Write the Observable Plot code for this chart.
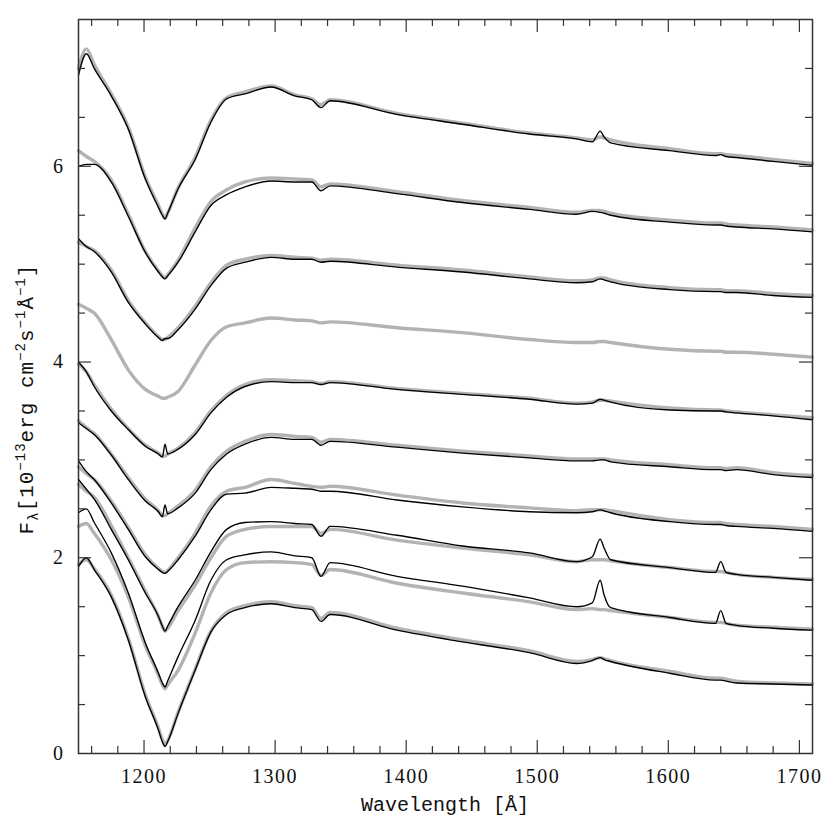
<!DOCTYPE html>
<html><head><meta charset="utf-8">
<script src="https://cdn.jsdelivr.net/npm/d3@7"></script>
<script src="https://cdn.jsdelivr.net/npm/@observablehq/plot@0.6"></script>
<style>body{margin:0;background:#fff}</style>
</head><body><div id="chart"></div>
<script>
// Wavelength sample points (Å)
const wl = [1150,1156,1162,1175,1188,1201,1211,1214,1216,1218,1226,1239,1251,1263,1277,1297,1315,1328,1335,1342,1393,1443,1494,1530,1542,1548,1551,1556,1601,1636,1640,1644,1652,1680,1710];

// Spectra, top to bottom (black = thin, gray = thick)
const black1 = [6.93,7.15,7.00,6.72,6.38,5.87,5.58,5.50,5.46,5.52,5.77,6.07,6.45,6.69,6.74,6.81,6.72,6.68,6.60,6.67,6.53,6.43,6.33,6.28,6.25,6.36,6.30,6.24,6.16,6.11,6.12,6.10,6.09,6.05,6.01];
const gray1  = [7.00,7.20,7.04,6.74,6.40,5.89,5.60,5.51,5.47,5.52,5.78,6.09,6.47,6.70,6.76,6.82,6.73,6.69,6.63,6.68,6.54,6.44,6.34,6.29,6.27,6.30,6.29,6.27,6.18,6.13,6.13,6.12,6.11,6.07,6.03];
const black2 = [6.00,6.02,6.02,5.84,5.49,5.12,4.92,4.87,4.85,4.88,5.02,5.33,5.60,5.71,5.79,5.85,5.84,5.84,5.75,5.80,5.72,5.63,5.56,5.51,5.54,5.53,5.52,5.50,5.43,5.40,5.40,5.39,5.38,5.36,5.33];
const gray2  = [6.16,6.10,6.05,5.86,5.51,5.13,4.93,4.88,4.86,4.89,5.04,5.37,5.64,5.76,5.84,5.88,5.87,5.86,5.79,5.82,5.74,5.65,5.58,5.53,5.55,5.55,5.54,5.52,5.45,5.42,5.42,5.41,5.40,5.38,5.35];
const black3 = [5.26,5.18,5.13,4.92,4.61,4.39,4.25,4.22,4.24,4.24,4.33,4.54,4.78,4.96,5.02,5.07,5.05,5.05,5.02,5.03,4.97,4.92,4.85,4.81,4.82,4.85,4.84,4.82,4.74,4.72,4.72,4.71,4.71,4.68,4.66];
const gray3  = [5.22,5.18,5.14,4.94,4.63,4.40,4.26,4.23,4.23,4.25,4.35,4.57,4.81,4.99,5.05,5.09,5.07,5.06,5.04,5.05,4.99,4.94,4.87,4.83,4.84,4.86,4.86,4.84,4.76,4.74,4.74,4.73,4.73,4.70,4.68];
const gray4  = [4.59,4.55,4.50,4.23,3.92,3.72,3.65,3.63,3.63,3.64,3.70,3.97,4.22,4.36,4.40,4.45,4.43,4.42,4.40,4.41,4.35,4.30,4.23,4.20,4.20,4.21,4.21,4.20,4.13,4.11,4.11,4.10,4.10,4.08,4.05];
const black5 = [4.00,3.90,3.75,3.50,3.31,3.14,3.06,3.03,3.16,3.06,3.11,3.26,3.48,3.64,3.75,3.80,3.79,3.79,3.77,3.79,3.72,3.67,3.62,3.57,3.58,3.62,3.61,3.59,3.51,3.50,3.50,3.49,3.48,3.45,3.41];
const gray5  = [3.98,3.90,3.77,3.52,3.32,3.15,3.07,3.04,3.04,3.06,3.12,3.28,3.50,3.66,3.77,3.82,3.81,3.80,3.78,3.80,3.73,3.68,3.63,3.58,3.59,3.61,3.61,3.60,3.53,3.51,3.51,3.50,3.49,3.46,3.43];
const black6 = [3.38,3.32,3.26,3.05,2.80,2.58,2.47,2.42,2.54,2.45,2.51,2.66,2.90,3.06,3.16,3.23,3.21,3.21,3.15,3.19,3.13,3.07,3.02,2.99,2.99,3.00,3.00,2.98,2.93,2.90,2.90,2.89,2.90,2.85,2.82];
const gray6  = [3.40,3.33,3.27,3.06,2.82,2.60,2.48,2.43,2.43,2.45,2.53,2.69,2.93,3.09,3.19,3.26,3.24,3.23,3.18,3.21,3.15,3.09,3.04,3.01,3.01,3.01,3.01,3.00,2.95,2.92,2.92,2.91,2.92,2.87,2.84];
const black7 = [2.99,2.88,2.80,2.56,2.29,2.01,1.88,1.85,1.84,1.86,1.98,2.22,2.49,2.65,2.66,2.72,2.71,2.70,2.68,2.68,2.59,2.52,2.47,2.46,2.47,2.49,2.48,2.46,2.37,2.34,2.34,2.33,2.32,2.30,2.27];
const gray7  = [2.93,2.86,2.80,2.58,2.31,2.03,1.89,1.86,1.85,1.87,2.00,2.25,2.53,2.68,2.72,2.80,2.76,2.73,2.72,2.73,2.64,2.56,2.51,2.48,2.49,2.49,2.49,2.48,2.39,2.36,2.36,2.35,2.34,2.32,2.29];
const black8 = [2.80,2.70,2.60,2.29,1.98,1.64,1.40,1.30,1.25,1.30,1.50,1.77,2.06,2.29,2.36,2.37,2.35,2.34,2.22,2.32,2.23,2.12,2.05,1.96,2.01,2.19,2.10,1.98,1.90,1.85,1.96,1.85,1.83,1.80,1.77];
const gray8  = [2.75,2.68,2.62,2.33,2.00,1.66,1.40,1.30,1.25,1.28,1.46,1.72,2.00,2.22,2.29,2.32,2.32,2.32,2.25,2.29,2.18,2.10,2.03,1.96,1.98,1.98,1.98,1.97,1.90,1.86,1.86,1.85,1.83,1.80,1.78];
const black9 = [2.46,2.50,2.36,2.05,1.64,1.13,0.82,0.72,0.68,0.74,0.99,1.36,1.77,1.98,2.03,2.06,2.02,2.00,1.81,1.95,1.81,1.71,1.59,1.50,1.54,1.77,1.62,1.49,1.39,1.33,1.46,1.33,1.31,1.28,1.26];
const gray9  = [2.32,2.35,2.25,1.98,1.60,1.10,0.80,0.70,0.66,0.70,0.85,1.23,1.64,1.88,1.95,1.96,1.95,1.93,1.82,1.88,1.74,1.64,1.55,1.47,1.48,1.47,1.47,1.46,1.39,1.34,1.34,1.33,1.31,1.29,1.27];
const black10 = [1.91,2.00,1.88,1.60,1.16,0.58,0.24,0.12,0.07,0.12,0.41,0.85,1.24,1.42,1.49,1.53,1.49,1.47,1.35,1.42,1.26,1.14,1.03,0.92,0.95,0.98,0.96,0.94,0.82,0.75,0.75,0.74,0.72,0.71,0.70];
const gray10  = [1.93,1.98,1.89,1.62,1.18,0.60,0.26,0.14,0.09,0.13,0.42,0.86,1.25,1.44,1.51,1.55,1.51,1.49,1.38,1.44,1.28,1.16,1.05,0.94,0.96,0.98,0.97,0.95,0.84,0.77,0.77,0.76,0.74,0.72,0.71];

// Axis ticks
const xTicks = [1200,1300,1400,1500,1600,1700];
const xMinor = [1160,1180,1220,1240,1260,1280,1320,1340,1360,1380,1420,1440,1460,1480,1520,1540,1560,1580,1620,1640,1660,1680];
const yTicks = [0,2,4,6];
const yMajorMarks = [2,4,6];
const yMinor = [0.5,1,1.5,2.5,3,3.5,4.5,5,5.5,6.5,7];

const grayList = [gray1,gray2,gray3,gray4,gray5,gray6,gray7,gray8,gray9,gray10];
const blackList = [black1,black2,black3,black5,black6,black7,black8,black9,black10];
const toRows = (list) => list.flatMap((arr, s) => arr.map((v, i) => ({s, x: wl[i], y: v})));
const grayRows = toRows(grayList);
const blackRows = toRows(blackList);

const tickColor = "#333";
const serif = "'Liberation Serif', 'DejaVu Serif', serif";
const chart = Plot.plot({
  width: 830, height: 830,
  marginLeft: 78, marginRight: 18, marginTop: 19, marginBottom: 77,
  x: {domain: [1150, 1710]},
  y: {domain: [0, 7.5]},
  style: {background: "#fff"},
  marks: [
    Plot.line(grayRows, {x: "x", y: "y", z: "s", stroke: "#b3b3b3", strokeWidth: 3.4, strokeLinejoin: "round", curve: "monotone-x"}),
    Plot.line(blackRows, {x: "x", y: "y", z: "s", stroke: "#000", strokeWidth: 1.35, strokeLinejoin: "round", curve: "monotone-x"}),
    // bottom & top ticks (inward)
    Plot.ruleX(xTicks, {x: d => d, y1: 0, y2: 0, insetTop: -13, stroke: tickColor, strokeWidth: 1.2}),
    Plot.ruleX(xMinor, {x: d => d, y1: 0, y2: 0, insetTop: -7, stroke: tickColor, strokeWidth: 1.2}),
    Plot.ruleX(xTicks, {x: d => d, y1: 7.5, y2: 7.5, insetBottom: -13, stroke: tickColor, strokeWidth: 1.2}),
    Plot.ruleX(xMinor, {x: d => d, y1: 7.5, y2: 7.5, insetBottom: -7, stroke: tickColor, strokeWidth: 1.2}),
    // left & right ticks (inward)
    Plot.ruleY(yMajorMarks, {y: d => d, x1: 1150, x2: 1150, insetRight: -13, stroke: tickColor, strokeWidth: 1.2}),
    Plot.ruleY(yMinor, {y: d => d, x1: 1150, x2: 1150, insetRight: -7, stroke: tickColor, strokeWidth: 1.2}),
    Plot.ruleY(yMajorMarks, {y: d => d, x1: 1710, x2: 1710, insetLeft: -13, stroke: tickColor, strokeWidth: 1.2}),
    Plot.ruleY(yMinor, {y: d => d, x1: 1710, x2: 1710, insetLeft: -7, stroke: tickColor, strokeWidth: 1.2}),
    Plot.axisX(xTicks, {anchor: "bottom", tickSize: 0, tickPadding: 15, fontSize: 20, fontFamily: serif, label: null, fill: "#111", tickFormat: d => String(d)}),
    Plot.axisY(yTicks, {anchor: "left", tickSize: 0, tickPadding: 14, fontSize: 20, fontFamily: serif, label: null, fill: "#111", tickFormat: d => String(d)}),
    Plot.frame({stroke: tickColor, strokeWidth: 1.5})
  ]
});
document.getElementById("chart").appendChild(chart);

const svg = d3.select(chart);
svg.selectAll("g[aria-label='x-axis tick label'] text, g[aria-label='y-axis tick label'] text")
  .style("font-family", serif).style("letter-spacing", "1.5px");

// x label
svg.append("text")
  .attr("x", 445).attr("y", 811)
  .attr("text-anchor", "middle")
  .attr("font-family", "Liberation Mono")
  .attr("font-size", 20).attr("fill", "#111")
  .text("Wavelength [Å]");

// y label with sub/superscripts
const yl = svg.append("text")
  .attr("transform", "translate(33,399) rotate(-90)")
  .attr("text-anchor", "middle")
  .attr("font-family", "Liberation Mono")
  .attr("font-size", 21).attr("fill", "#111")
  .attr("letter-spacing", "1px");
const parts = [
  ["F", null], ["λ", "sub"], ["[10", null], ["−13", "super"], ["erg cm", null],
  ["−2", "super"], ["s", null], ["−1", "super"], ["Å", null], ["−1", "super"], ["]", null]
];
const off = k => k === "sub" ? 5 : k === "super" ? -8 : 0;
parts.forEach(([t, kind], i) => {
  const prev = i > 0 ? parts[i - 1][1] : null;
  const ts = yl.append("tspan").text(t).attr("dy", off(kind) - off(prev));
  if (kind) ts.attr("font-size", 14);
});
</script>
</body></html>
